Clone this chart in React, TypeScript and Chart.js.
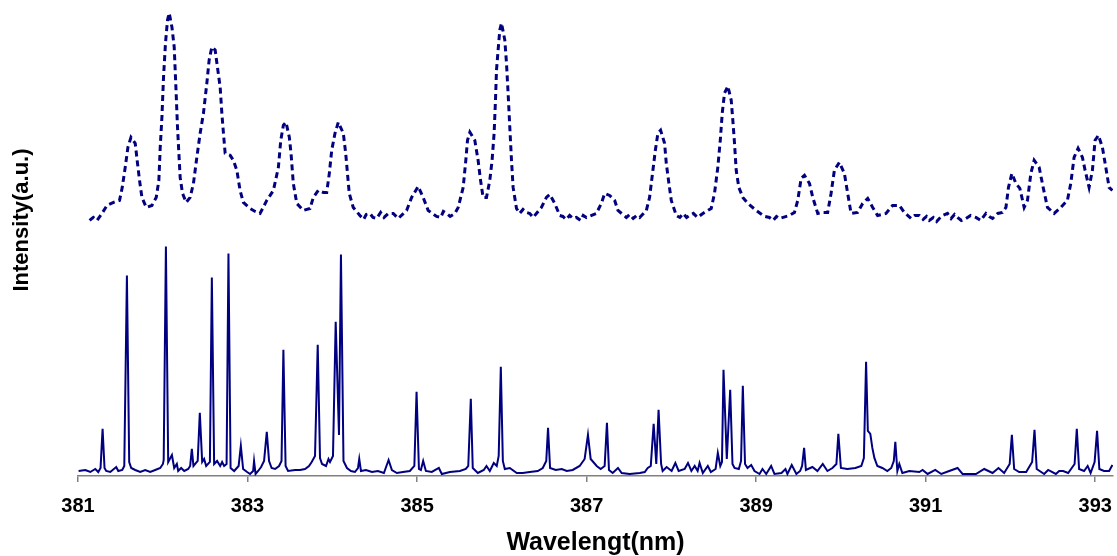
import React, { useEffect, useRef } from "react";
import { Chart, registerables } from "chart.js";

Chart.register(...registerables);

const X_TITLE = "Wavelengt(nm)";
const Y_TITLE = "Intensity(a.u.)";
const X_TICKS = [381, 383, 385, 387, 389, 391, 393];
const X_MIN = 381;
const X_MAX = 393.21;

// Upper (dashed) spectrum, offset included: [wavelength nm, intensity a.u.]
const UPPER: [number, number][] = [
  [381.137, 255], [381.18, 258], [381.224, 255], [381.283, 262], [381.342, 270], [381.419, 273], [381.490, 275], [381.522, 288], [381.557, 308], [381.589, 328], [381.625, 338],
  [381.675, 332], [381.702, 312], [381.726, 295], [381.754, 278], [381.805, 268], [381.872, 270], [381.923, 278], [381.954, 295], [381.970, 328], [381.990, 358],
  [382.009, 398], [382.032, 432], [382.056, 455], [382.076, 462], [382.108, 448], [382.135, 428], [382.155, 388], [382.174, 348], [382.190, 322], [382.205, 298],
  [382.233, 282], [382.276, 273], [382.323, 278], [382.362, 292], [382.402, 318], [382.441, 342], [382.480, 362], [382.520, 392], [382.547, 415], [382.579, 428],
  [382.618, 425], [382.645, 408], [382.677, 388], [382.697, 362], [382.716, 342], [382.736, 322], [382.795, 320], [382.833, 315], [382.874, 305], [382.912, 285],
  [382.951, 273], [383.030, 267], [383.09, 264], [383.148, 262], [383.227, 275], [383.305, 285], [383.364, 308], [383.392, 335], [383.423, 350], [383.454, 353], [383.493, 338],
  [383.513, 322], [383.540, 292], [383.581, 272], [383.658, 265], [383.737, 267], [383.776, 278], [383.835, 285], [383.894, 283], [383.934, 283], [383.965, 302],
  [383.993, 325], [384.032, 342], [384.071, 353], [384.130, 342], [384.158, 322], [384.200, 282], [384.247, 268], [384.326, 260], [384.37, 256], [384.40, 261],
  [384.444, 262], [384.48, 258], [384.523, 257], [384.57, 263], [384.61, 258], [384.66, 262],
  [384.719, 262], [384.778, 257], [384.877, 265], [384.936, 278], [385.013, 289], [385.072, 278], [385.131, 265], [385.18, 262], [385.230, 259], [385.28, 258], [385.31, 264],
  [385.348, 262], [385.39, 259], [385.446, 262],
  [385.485, 268], [385.544, 288], [385.575, 315], [385.595, 335], [385.623, 343], [385.681, 335], [385.720, 315], [385.749, 295], [385.779, 278], [385.819, 278],
  [385.858, 295], [385.885, 315], [385.909, 342], [385.925, 375], [385.937, 405], [385.956, 425], [385.976, 445], [385.996, 452], [386.035, 435], [386.055, 412],
  [386.074, 382], [386.094, 348], [386.114, 315], [386.133, 288], [386.173, 267], [386.21, 262], [386.25, 266], [386.291, 263], [386.33, 262], [386.37, 258],
  [386.408, 262], [386.467, 268], [386.526, 278], [386.565, 281],
  [386.624, 272], [386.683, 260], [386.72, 259], [386.76, 256], [386.80, 260], [386.840, 257], [386.88, 258], [386.93, 255], [386.96, 260], [386.998, 258],
  [387.115, 262], [387.174, 272], [387.213, 282], [387.272, 280], [387.331, 275], [387.370, 265],
  [387.469, 258], [387.51, 261], [387.55, 257], [387.59, 260], [387.626, 258], [387.705, 265], [387.743, 278], [387.782, 305], [387.811, 325], [387.841, 342], [387.873, 345], [387.920, 332], [387.940, 312],
  [387.971, 292], [387.999, 275], [388.058, 260], [388.10, 258], [388.14, 262], [388.18, 258], [388.215, 260], [388.26, 262], [388.31, 258], [388.371, 262],
  [388.470, 267], [388.509, 282], [388.548, 308], [388.577, 335], [388.600, 362],
  [388.627, 382], [388.666, 389], [388.706, 375], [388.725, 355], [388.745, 332], [388.765, 305], [388.796, 288], [388.843, 278], [388.902, 272], [389.001, 265],
  [389.05, 262], [389.10, 259], [389.157, 258], [389.2, 255], [389.24, 259], [389.275, 257], [389.393, 260], [389.452, 263], [389.491, 275], [389.531, 297], [389.570, 300], [389.629, 292], [389.668, 278], [389.727, 262],
  [389.785, 263], [389.844, 263], [389.884, 282], [389.923, 305], [389.982, 313], [390.041, 302], [390.080, 282], [390.120, 262], [390.198, 263], [390.257, 272],
  [390.316, 277], [390.375, 268], [390.433, 260], [390.532, 262], [390.610, 270], [390.689, 270], [390.748, 263], [390.827, 257], [390.87, 260], [390.925, 260],
  [390.97, 256], [391.01, 259], [391.043, 255], [391.09, 258], [391.13, 254],
  [391.161, 257], [391.2, 260], [391.258, 262], [391.3, 257], [391.34, 261], [391.376, 258], [391.42, 255], [391.475, 257], [391.53, 260], [391.593, 258],
  [391.65, 255], [391.711, 262], [391.75, 259], [391.789, 257], [391.85, 262], [391.906, 263], [391.947, 268], [391.977, 288],
  [392.017, 302], [392.064, 292], [392.111, 287], [392.162, 268], [392.201, 275], [392.241, 302], [392.280, 315], [392.339, 308], [392.386, 288], [392.437, 268],
  [392.516, 262], [392.594, 268], [392.672, 275], [392.712, 292], [392.751, 318], [392.798, 327], [392.849, 318], [392.881, 305], [392.928, 288], [392.967, 305],
  [392.999, 335], [393.038, 340], [393.085, 328], [393.125, 308], [393.164, 288], [393.203, 285],
];

// Lower (solid) spectrum: [wavelength nm, intensity a.u.]
const LOWER: [number, number][] = [
  [381.007, 5], [381.086, 6], [381.145, 4], [381.204, 7], [381.239, 4], [381.266, 8], [381.290, 47], [381.313, 8], [381.333, 5], [381.381, 4],
  [381.451, 9], [381.475, 5], [381.522, 6], [381.546, 10], [381.577, 200], [381.604, 14], [381.628, 8], [381.675, 6], [381.734, 4], [381.793, 6],
  [381.852, 4], [381.911, 6], [381.970, 8], [382.002, 12], [382.011, 16], [382.037, 229], [382.064, 14], [382.108, 21], [382.135, 8], [382.166, 12],
  [382.182, 5], [382.217, 8], [382.253, 5], [382.300, 7], [382.323, 10], [382.343, 27], [382.362, 10], [382.412, 15], [382.437, 63], [382.465, 14],
  [382.488, 17], [382.512, 10], [382.556, 14], [382.579, 198], [382.606, 12], [382.641, 15], [382.677, 10], [382.700, 14], [382.724, 10], [382.753, 12],
  [382.775, 222], [382.800, 8], [382.842, 5], [382.895, 10], [382.921, 30], [382.948, 7], [382.995, 4], [383.030, 2], [383.066, 5], [383.077, 15],
  [383.095, 2], [383.125, 5], [383.160, 9], [383.195, 15], [383.227, 44], [383.254, 15], [383.284, 8], [383.325, 7], [383.372, 10], [383.401, 15],
  [383.423, 126], [383.449, 10], [383.478, 5], [383.561, 6], [383.619, 6], [383.678, 7], [383.725, 10], [383.757, 14], [383.796, 20], [383.828, 131],
  [383.855, 18], [383.879, 12], [383.926, 10], [383.955, 17], [383.973, 14], [384.008, 20], [384.040, 154], [384.079, 41], [384.102, 221], [384.132, 15],
  [384.173, 8], [384.220, 5], [384.267, 4], [384.303, 8], [384.318, 17], [384.338, 5], [384.397, 6], [384.468, 4], [384.538, 5], [384.609, 3],
  [384.664, 16], [384.703, 6], [384.762, 3], [384.833, 4], [384.915, 5], [384.968, 10], [384.994, 84], [385.022, 7], [385.045, 6], [385.072, 15],
  [385.104, 5], [385.174, 4], [385.257, 8], [385.292, 2], [385.387, 4], [385.505, 5], [385.575, 7], [385.604, 10], [385.634, 77], [385.657, 8],
  [385.717, 3], [385.787, 6], [385.819, 10], [385.858, 5], [385.905, 13], [385.940, 10], [385.963, 20], [385.988, 109], [386.012, 15], [386.035, 7],
  [386.094, 8], [386.176, 3], [386.247, 3], [386.329, 4], [386.424, 5], [386.483, 8], [386.524, 15], [386.545, 48], [386.569, 8], [386.636, 6],
  [386.707, 7], [386.766, 5], [386.836, 6], [386.918, 10], [386.977, 17], [387.016, 41], [387.048, 17], [387.119, 10], [387.166, 7], [387.213, 10],
  [387.240, 53], [387.264, 6], [387.308, 3], [387.370, 8], [387.414, 3], [387.508, 2], [387.627, 3], [387.686, 4], [387.721, 8], [387.757, 10],
  [387.791, 52], [387.822, 12], [387.849, 66], [387.879, 12], [387.897, 5], [387.944, 9], [388.003, 5], [388.047, 13], [388.086, 5], [388.157, 7],
  [388.196, 13], [388.236, 5], [388.275, 10], [388.310, 5], [388.333, 13], [388.371, 3], [388.430, 10], [388.466, 4], [388.522, 7], [388.548, 23],
  [388.577, 10], [388.597, 14], [388.615, 106], [388.654, 17], [388.694, 86], [388.721, 12], [388.745, 8], [388.796, 7], [388.822, 15], [388.843, 90],
  [388.869, 12], [388.898, 8], [388.942, 11], [388.981, 5], [389.040, 2], [389.075, 7], [389.119, 2], [389.177, 10], [389.216, 2], [389.299, 3],
  [389.346, 7], [389.369, 2], [389.420, 11], [389.475, 2], [389.519, 5], [389.542, 10], [389.566, 28], [389.587, 6], [389.664, 9], [389.723, 5],
  [389.786, 12], [389.841, 5], [389.900, 8], [389.947, 12], [389.970, 42], [390.000, 8], [390.076, 7], [390.171, 8], [390.241, 10], [390.271, 18],
  [390.297, 114], [390.318, 45], [390.347, 42], [390.371, 28], [390.395, 18], [390.430, 10], [390.489, 8], [390.548, 5], [390.594, 8], [390.624, 15],
  [390.642, 34], [390.666, 5], [390.689, 12], [390.725, 3], [390.807, 5], [390.925, 4], [390.964, 6], [391.023, 2], [391.113, 6], [391.184, 2],
  [391.278, 5], [391.376, 8], [391.435, 2], [391.593, 2], [391.691, 7], [391.789, 3], [391.859, 8], [391.926, 3], [391.991, 12], [392.017, 41],
  [392.044, 7], [392.103, 4], [392.186, 4], [392.256, 14], [392.284, 46], [392.310, 7], [392.398, 2], [392.445, 6], [392.536, 2], [392.575, 5],
  [392.622, 5], [392.681, 3], [392.757, 12], [392.783, 47], [392.810, 7], [392.869, 5], [392.911, 10], [392.946, 3], [392.993, 14], [393.022, 45],
  [393.049, 7], [393.104, 5], [393.164, 5], [393.203, 11],
];

const Y_MIN = 0;
const Y_MAX = 470;

const LINE_COLOR = "#000080";
const FONT_FAMILY = '"Liberation Sans", Arial, Helvetica, sans-serif';

const yTitlePlugin = {
  id: "yTitleText",
  afterDraw(chart: any) {
    const ctx = chart.ctx;
    ctx.save();
    ctx.translate(22, 220);
    ctx.rotate(-Math.PI / 2);
    ctx.font = `bold 22px ${FONT_FAMILY}`;
    ctx.fillStyle = "#000000";
    ctx.textAlign = "center";
    ctx.textBaseline = "middle";
    ctx.fillText(Y_TITLE, 0, 0);
    ctx.restore();
  },
};

export default function App() {
  const canvasRef = useRef<HTMLCanvasElement | null>(null);

  useEffect(() => {
    if (!canvasRef.current) return;
    const chart = new Chart(canvasRef.current, {
      type: "line",
      data: {
        datasets: [
          {
            label: "upper",
            data: UPPER.map(([x, y]) => ({ x, y })),
            borderColor: LINE_COLOR,
            borderWidth: 3,
            borderDash: [6, 4],
            pointRadius: 0,
            tension: 0,
            fill: false,
          },
          {
            label: "lower",
            data: LOWER.map(([x, y]) => ({ x, y })),
            borderColor: LINE_COLOR,
            borderWidth: 2,
            pointRadius: 0,
            tension: 0,
            fill: false,
          },
        ],
      },
      options: {
        animation: false,
        responsive: false,
        devicePixelRatio: 1,
        layout: { padding: { left: 78, right: 4, top: 5, bottom: 0 } },
        plugins: {
          legend: { display: false },
          tooltip: { enabled: false },
        },
        scales: {
          x: {
            type: "linear",
            min: X_MIN,
            max: X_MAX,
            afterBuildTicks: (scale: any) => {
              scale.ticks = X_TICKS.map((v) => ({ value: v }));
            },
            grid: {
              display: true,
              drawOnChartArea: false,
              drawTicks: true,
              tickLength: 6,
              color: "#808080",
              lineWidth: 1.5,
            },
            border: { display: true, color: "#808080", width: 1.5 },
            ticks: {
              autoSkip: false,
              maxRotation: 0,
              padding: 3,
              color: "#000000",
              font: { family: FONT_FAMILY, size: 20, weight: "bold", lineHeight: 2.1 },
              callback: (v: any) => String(v),
            },
            title: {
              display: true,
              text: X_TITLE,
              color: "#000000",
              font: { family: FONT_FAMILY, size: 25, weight: "bold", lineHeight: 1.04 },
              padding: { top: 0, bottom: 0 },
            },
          },
          y: {
            display: false,
            min: Y_MIN,
            max: Y_MAX,
          },
        },
      },
      plugins: [yTitlePlugin],
    } as any);
    return () => chart.destroy();
  }, []);

  return (
    <div style={{ position: "absolute", left: 0, top: 0, width: 1117, height: 556, background: "#ffffff" }}>
      <canvas ref={canvasRef} width={1117} height={556} style={{ display: "block" }} />
    </div>
  );
}
